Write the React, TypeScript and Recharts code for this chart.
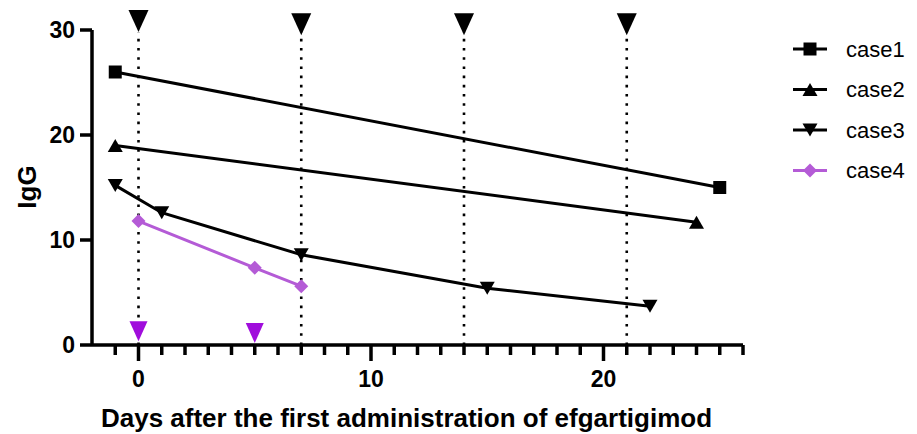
import {
  ComposedChart,
  Line,
  Scatter,
  XAxis,
  YAxis,
  ReferenceLine,
} from "recharts";

// IgG per case (day, value)
const case1 = [
  { x: -1, y: 26 },
  { x: 25, y: 15 },
];
const case2 = [
  { x: -1, y: 19 },
  { x: 24, y: 11.7 },
];
const case3 = [
  { x: -1, y: 15.2 },
  { x: 1, y: 12.6 },
  { x: 7, y: 8.6 },
  { x: 15, y: 5.4 },
  { x: 22, y: 3.7 },
];
const case4 = [
  { x: 0, y: 11.8 },
  { x: 5, y: 7.35 },
  { x: 7, y: 5.6 },
];

// efgartigimod doses (black: cases 1-3, purple: case4)
const doseDays = [0, 7, 14, 21];
const doseMarks = [
  { x: 0, y: 30.85 },
  { x: 7, y: 30.55 },
  { x: 14, y: 30.55 },
  { x: 21, y: 30.55 },
];
const case4Doses = [
  { x: 0, y: 1.3 },
  { x: 5, y: 1.15 },
];

const xMajorTicks = [0, 10, 20];
const xMinorTicks = [
  -1, 1, 2, 3, 4, 5, 6, 7, 8, 9, 11, 12, 13, 14, 15, 16, 17, 18, 19, 21, 22,
  23, 24, 25, 26,
];
const yTicks = [0, 10, 20, 30];

const FONT = "'Liberation Sans', Arial, sans-serif";
const PURPLE_LINE = "#b45bd6";
const PURPLE_MARK = "#a00ddc";

const triDown = (cx: number, cy: number, w: number, h: number) =>
  `M${cx - w / 2},${cy - h / 2}L${cx + w / 2},${cy - h / 2}L${cx},${cy + h / 2}Z`;
const triUp = (cx: number, cy: number, w: number, h: number) =>
  `M${cx - w / 2},${cy + h / 2}L${cx + w / 2},${cy + h / 2}L${cx},${cy - h / 2}Z`;
const square = (cx: number, cy: number, s: number) =>
  `M${cx - s / 2},${cy - s / 2}h${s}v${s}h${-s}Z`;
const diamond = (cx: number, cy: number, s: number) =>
  `M${cx},${cy - s / 2}L${cx + s / 2},${cy}L${cx},${cy + s / 2}L${cx - s / 2},${cy}Z`;

const markerPath = (kind: string, cx: number, cy: number) => {
  if (kind === "square") return square(cx, cy, 13);
  if (kind === "up") return triUp(cx, cy, 15, 13);
  if (kind === "down") return triDown(cx, cy, 15, 13);
  return diamond(cx, cy, 14);
};

const series = [
  { name: "case1", data: case1, color: "#000", marker: "square" },
  { name: "case2", data: case2, color: "#000", marker: "up" },
  { name: "case3", data: case3, color: "#000", marker: "down" },
  { name: "case4", data: case4, color: PURPLE_LINE, marker: "diamond" },
];

// tick marks below the x axis, as short segments (10px minor, 16px major)
const tickSeg = (d: number, len: number) => (
  <ReferenceLine
    key={`t${d}`}
    segment={[
      { x: d, y: 0 },
      { x: d, y: -len / 10.5 },
    ]}
    ifOverflow="visible"
    stroke="#000"
    strokeWidth={3.5}
  />
);

const Legend = () => (
  <svg
    width={130}
    height={200}
    style={{ position: "absolute", left: 787, top: 0 }}
  >
    {series.map((s, i) => {
      const cy = 49 + i * 40.5;
      return (
        <g key={s.name}>
          <line x1={6} x2={40} y1={cy} y2={cy} stroke={s.color} strokeWidth={3} />
          <path d={markerPath(s.marker, 23, cy)} fill={s.color} />
          <text
            x={59}
            y={cy}
            dy="0.36em"
            fontSize={22}
            fontFamily={FONT}
            fill="#000"
          >
            {s.name}
          </text>
        </g>
      );
    })}
  </svg>
);

export default function App() {
  return (
    <div style={{ position: "absolute", left: 0, top: 0, width: 917, height: 434 }}>
      <ComposedChart
        width={917}
        height={434}
        margin={{ top: 9, right: 174, bottom: 0, left: 0 }}
      >
        <XAxis
          type="number"
          dataKey="x"
          domain={[-2, 26]}
          ticks={xMajorTicks}
          interval={0}
          tickSize={0}
          tickMargin={26}
          tickLine={false}
          tick={{ fill: "#000", fontSize: 23, fontWeight: 700, fontFamily: FONT }}
          height={89}
          axisLine={{ stroke: "#000", strokeWidth: 3.5 }}
          label={{
            content: ({ viewBox }: any) => (
              <text
                x={viewBox.x + viewBox.width / 2 - 11}
                y={viewBox.y + 82}
                textAnchor="middle"
                fontSize={26}
                fontWeight={700}
                fontFamily={FONT}
                fill="#000"
              >
                Days after the first administration of efgartigimod
              </text>
            ),
          }}
        />
        <YAxis
          type="number"
          dataKey="y"
          domain={[0, 32]}
          ticks={yTicks}
          interval={0}
          width={92}
          axisLine={false}
          tickSize={12}
          tickMargin={5}
          tickLine={{ stroke: "#000", strokeWidth: 3.5 }}
          tick={{ fill: "#000", fontSize: 23, fontWeight: 700, fontFamily: FONT }}
          label={{
            content: () => (
              <text
                x={0}
                y={0}
                transform="translate(36,187) rotate(-90)"
                textAnchor="middle"
                fontSize={26}
                fontWeight={700}
                fontFamily={FONT}
                fill="#000"
              >
                IgG
              </text>
            ),
          }}
        />
        <ReferenceLine
          segment={[
            { x: -2, y: 0 },
            { x: -2, y: 30 },
          ]}
          stroke="#000"
          strokeWidth={3.5}
        />
        {xMinorTicks.map((d) => tickSeg(d, 10))}
        {xMajorTicks.map((d) => tickSeg(d, 16))}
        {doseDays.map((d) => (
          <ReferenceLine
            key={d}
            segment={[
              { x: d, y: 0 },
              { x: d, y: 29.8 },
            ]}
            stroke="#000"
            strokeWidth={2.6}
            strokeDasharray="2.6 6.6"
          />
        ))}
        {series.map((s) => (
          <Line
            key={s.name}
            data={s.data}
            dataKey="y"
            type="linear"
            stroke={s.color}
            strokeWidth={3}
            isAnimationActive={false}
            dot={(p: any) => (
              <path
                key={`${s.name}-${p.index}`}
                d={markerPath(s.marker, p.cx, p.cy)}
                fill={s.color}
              />
            )}
            activeDot={false}
          />
        ))}
        <Scatter
          data={doseMarks}
          dataKey="y"
          isAnimationActive={false}
          shape={(p: any) => (
            <path d={triDown(p.cx, p.cy, 20, 22)} fill="#000" />
          )}
        />
        <Scatter
          data={case4Doses}
          dataKey="y"
          isAnimationActive={false}
          shape={(p: any) => (
            <path d={triDown(p.cx, p.cy, 18, 20)} fill={PURPLE_MARK} />
          )}
        />
      </ComposedChart>
      <Legend />
    </div>
  );
}
